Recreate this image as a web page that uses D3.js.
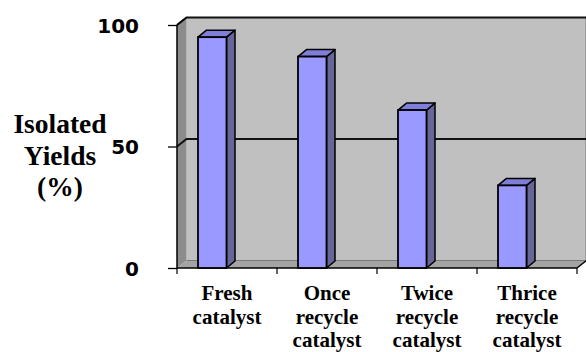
<!DOCTYPE html>
<html>
<head>
<meta charset="utf-8">
<script src="https://cdn.jsdelivr.net/npm/d3@7"></script>
<style>
  html, body { margin: 0; padding: 0; background: #fff; }
  svg { display: block; }
</style>
</head>
<body>
<svg id="chart" width="586" height="352"></svg>
<script>
// Catalyst reuse: isolated yields per run
const categories = ["Fresh catalyst", "Once recycle catalyst", "Twice recycle catalyst", "Thrice recycle catalyst"];
const categoryLines = [["Fresh", "catalyst"], ["Once", "recycle", "catalyst"], ["Twice", "recycle", "catalyst"], ["Thrice", "recycle", "catalyst"]];
const yields = [95, 87, 65, 34];
const yTicks = [0, 50, 100];
const yTitleLines = ["Isolated", "Yields", "(%)"];

const svg = d3.select("#chart");

const plotLeft = 177, plotRight = 577, plotTop = 25, plotBottom = 268;
const x = d3.scaleBand().domain(categories).range([plotLeft, plotRight]).paddingInner(0).paddingOuter(0);
const y = d3.scaleLinear().domain([0, 100]).range([plotBottom, plotTop]);

// depth offsets for the 3D walls and for the bars
const wd = { dx: 9.5, dy: -7.5 };
const bd = { dx: 8.5, dy: -7 };

const g = svg.append("g");

// back wall
g.append("rect")
  .attr("x", plotLeft + wd.dx).attr("y", y(100) + wd.dy)
  .attr("width", 586 - (plotLeft + wd.dx)).attr("height", y(0) - y(100))
  .attr("fill", "#c0c0c0");
g.append("line")
  .attr("x1", 585.5).attr("x2", 585.5)
  .attr("y1", y(100) + wd.dy).attr("y2", y(0) + wd.dy)
  .attr("stroke", "#9a9a9a").attr("stroke-width", 1);

// side wall
g.append("path")
  .attr("d", `M${plotLeft},${y(0)} L${plotLeft},${y(100)} L${plotLeft + wd.dx},${y(100) + wd.dy} L${plotLeft + wd.dx},${y(0) + wd.dy} Z`)
  .attr("fill", "#8c8c8c");

// floor
g.append("path")
  .attr("d", `M${plotLeft},${y(0)} L${plotRight},${y(0)} L${plotRight + wd.dx},${y(0) + wd.dy} L${plotLeft + wd.dx},${y(0) + wd.dy} Z`)
  .attr("fill", "#a4a4a4");
g.append("line")
  .attr("x1", plotLeft + wd.dx).attr("x2", 586)
  .attr("y1", y(0) + wd.dy).attr("y2", y(0) + wd.dy)
  .attr("stroke", "#777").attr("stroke-width", 1);

// gridlines across side wall and back wall
yTicks.filter(t => t > 0).forEach(t => {
  g.append("path")
    .attr("d", `M${plotLeft},${y(t)} L${plotLeft + wd.dx},${y(t) + wd.dy} L586,${y(t) + wd.dy}`)
    .attr("fill", "none").attr("stroke", "#111").attr("stroke-width", 2);
});

// value axis line and ticks
g.append("line")
  .attr("x1", plotLeft).attr("x2", plotLeft).attr("y1", y(100)).attr("y2", y(0))
  .attr("stroke", "#000").attr("stroke-width", 1.5);
const yAxis = d3.axisLeft(y).tickValues(yTicks).tickSize(9).tickPadding(29).tickFormat(d3.format("d"));
const ya = svg.append("g").attr("transform", `translate(${plotLeft},0)`).call(yAxis);
ya.select(".domain").remove();
ya.selectAll(".tick line").attr("stroke", "#000").attr("stroke-width", 1.3);
ya.selectAll(".tick text")
  .attr("font-family", "DejaVu Sans, sans-serif").attr("font-weight", "bold")
  .attr("font-size", 20).attr("fill", "#000").attr("dy", "0.36em");

// category axis
const xa = svg.append("g").attr("transform", `translate(0,${plotBottom})`);
xa.append("line")
  .attr("x1", plotLeft).attr("x2", plotRight).attr("y1", 0).attr("y2", 0)
  .attr("stroke", "#000").attr("stroke-width", 1.5);
xa.append("line")
  .attr("x1", plotRight).attr("x2", plotRight + wd.dx).attr("y1", 0).attr("y2", wd.dy)
  .attr("stroke", "#000").attr("stroke-width", 1.5);
const catEdges = categories.map(c => x(c)).concat([plotRight]);
xa.selectAll("line.cat-tick").data(catEdges).join("line")
  .attr("class", "cat-tick")
  .attr("x1", d => d).attr("x2", d => d).attr("y1", 0).attr("y2", 6)
  .attr("stroke", "#000").attr("stroke-width", 1.2);

// top edge of the side wall
g.append("line")
  .attr("x1", plotLeft).attr("y1", y(100)).attr("x2", plotLeft + wd.dx).attr("y2", y(100) + wd.dy)
  .attr("stroke", "#000").attr("stroke-width", 1.5);

// 3D bars
const barOffset = x.bandwidth() * 0.21;
const barW = x.bandwidth() * 0.285;
const bars = svg.append("g").selectAll("g.bar").data(yields).join("g").attr("class", "bar");
bars.each(function(v, i) {
  const b = d3.select(this);
  const x0 = x(categories[i]) + barOffset, x1 = x0 + barW;
  const yt = y(v), yb = y(0);
  b.append("path")
    .attr("d", `M${x1},${yb} L${x1},${yt} L${x1 + bd.dx},${yt + bd.dy} L${x1 + bd.dx},${yb + bd.dy} Z`)
    .attr("fill", "#666699").attr("stroke", "#000").attr("stroke-width", 1.5).attr("stroke-linejoin", "round");
  b.append("path")
    .attr("d", `M${x0},${yt} L${x0 + bd.dx},${yt + bd.dy} L${x1 + bd.dx},${yt + bd.dy} L${x1},${yt} Z`)
    .attr("fill", "#7f7fd9").attr("stroke", "#000").attr("stroke-width", 1.5).attr("stroke-linejoin", "round");
  b.append("rect")
    .attr("x", x0).attr("y", yt).attr("width", barW).attr("height", yb - yt)
    .attr("fill", "#9999ff").attr("stroke", "#000").attr("stroke-width", 1.8);
});

// category labels
const labels = svg.append("g").selectAll("text").data(categoryLines).join("text")
  .attr("font-family", "Liberation Serif, Times New Roman, serif")
  .attr("font-weight", "bold").attr("font-size", 21).attr("fill", "#000")
  .attr("text-anchor", "middle")
  .attr("transform", (d, i) => `translate(${x(categories[i]) + x.bandwidth() / 2},300)`);
labels.selectAll("tspan").data(d => d).join("tspan")
  .attr("x", 0).attr("y", (d, j) => j * 23.5).text(d => d);

// value axis title
svg.append("text")
  .attr("font-family", "Liberation Serif, Times New Roman, serif")
  .attr("font-weight", "bold").attr("font-size", 27.5).attr("fill", "#000")
  .attr("text-anchor", "middle")
  .selectAll("tspan").data(yTitleLines).join("tspan")
  .attr("x", 60).attr("y", (d, j) => 133 + j * 31.5).text(d => d);
</script>
</body>
</html>
